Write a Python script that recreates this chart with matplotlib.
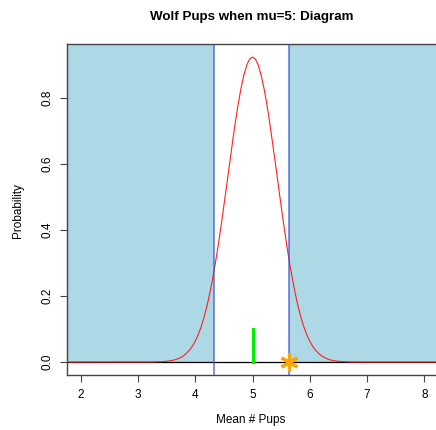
import numpy as np
import matplotlib.pyplot as plt

plt.rcParams['font.family'] = ['Liberation Sans', 'DejaVu Sans']

# values
x_vals = [round(1.8 + 0.05 * i, 2) for i in range(129)]
# density at distance 0, 0.05, 0.10, ... from mu (curve is symmetric)
half_dens = [0.924, 0.918, 0.900, 0.870, 0.830, 0.782, 0.726, 0.665, 0.602, 0.537,
             0.473, 0.411, 0.352, 0.298, 0.249, 0.205, 0.166, 0.133, 0.105, 0.082,
             0.063, 0.048, 0.036, 0.027, 0.0195, 0.014, 0.010, 0.007, 0.0048, 0.0033,
             0.0022, 0.0015, 0.001, 0.0006, 0.0004, 0.0002, 0.0001] + [0.0] * 28
dens = half_dens[:0:-1] + half_dens

lower_crit = 4.323
upper_crit = 5.635
observed = 5.635
mu = 5
green_height = 0.1

xlim = (1.76, 8.24)
ylim = (-0.0394, 0.9636)

fig = plt.figure(figsize=(4.36, 4.30), dpi=100)
ax = fig.add_axes([67 / 436, 55 / 430, 371 / 436, 331 / 430])
ax.set_xlim(xlim)
ax.set_ylim(ylim)

# shaded rejection regions
ax.fill_between([xlim[0], lower_crit], 0, ylim[1], color='#ADD8E6', lw=0, zorder=1)
ax.fill_between([upper_crit, xlim[1]], 0, ylim[1], color='#ADD8E6', lw=0, zorder=1)

ax.axhline(0, color='black', lw=0.9, zorder=2)
ax.plot(x_vals, dens, color='#ff2020', lw=0.8, zorder=3)
ax.axvline(lower_crit, color='#3a4fd0', lw=1.1, alpha=0.8, zorder=4)
ax.axvline(upper_crit, color='#3a4fd0', lw=1.1, alpha=0.8, zorder=4)
ax.plot([mu, mu], [0, green_height], color='#00ee00', lw=2.2, zorder=5)
ax.plot([observed], [0], marker=(6, 2, 0), color='orange', markersize=13,
        markeredgewidth=2.3, zorder=6, clip_on=False)

for s in ax.spines.values():
    s.set_color('#444444')
    s.set_linewidth(1)

ax.set_xticks([2, 3, 4, 5, 6, 7, 8])
ax.set_yticks([0.0, 0.2, 0.4, 0.6, 0.8])
ax.set_yticklabels(['0.0', '0.2', '0.4', '0.6', '0.8'], rotation=90, va='center')
ax.tick_params(axis='both', labelsize=8.5, length=5, width=0.8, color='#444444',
               pad=5)

ax.set_xlabel('Mean # Pups', fontsize=8.5)
ax.xaxis.set_label_coords(0.5 - 0.5 * 3 / 371, -(420 - 375) / 331)
ax.xaxis.label.set_va('center')
ax.set_ylabel('Probability', fontsize=8.5)
ax.yaxis.set_label_coords(-(67 - 18) / 371, 0.5 - (210 - 209) / 331)
ax.yaxis.label.set_va('center')
fig.text(252 / 436, 1 - 17 / 430, 'Wolf Pups when mu=5: Diagram',
         fontsize=9.6, fontweight='bold', ha='center', va='center')

fig.savefig('out.png', dpi=100)
